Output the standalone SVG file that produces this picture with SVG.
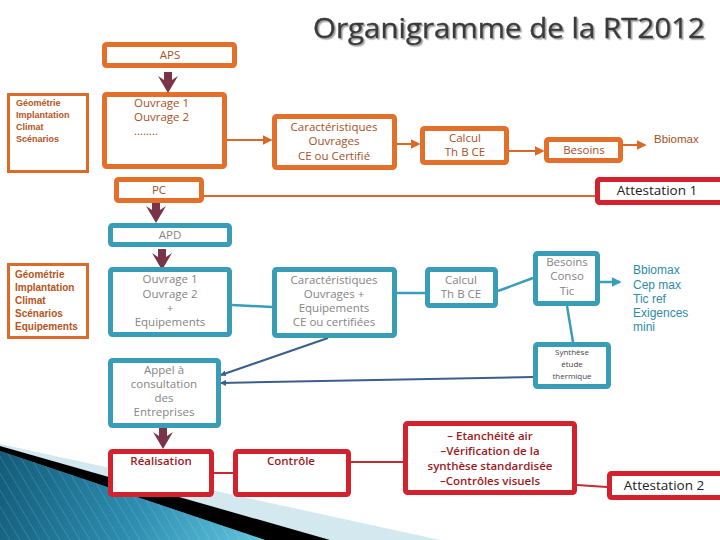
<svg xmlns="http://www.w3.org/2000/svg" width="720" height="540" viewBox="0 0 720 540">
<style>
.o{fill:#fff;stroke:#E2702A;stroke-width:5}
.ol{fill:#fff;stroke:#DD6A2A;stroke-width:3}
.t{fill:#fff;stroke:#3A9DB8;stroke-width:5}
.r{fill:#fff;stroke:#D3222D;stroke-width:5}
.tx{font-family:"Open Sans","DejaVu Sans",sans-serif;font-size:11.5px;text-anchor:middle}
.tsa{text-anchor:start}
.ts{font-size:8px;fill:#444}
.to{fill:#A8501E}
.tg{fill:#858585}
.tr{fill:#9E1A22;font-weight:600}
.lb{font-family:"Liberation Sans",Arial,sans-serif;font-weight:bold;fill:#B5541B}
.tl{font-family:"Liberation Sans",Arial,sans-serif;font-size:12px;fill:#2E8BAA}
.att{font-family:"Open Sans","DejaVu Sans",sans-serif;font-size:13.5px;fill:#222;text-anchor:middle}
.co{fill:none;stroke:#D9692A;stroke-width:2}
.ct{fill:none;stroke:#3A9DB8;stroke-width:2.5}
.cb{fill:none;stroke:#3B5F8C;stroke-width:2}
.cr{fill:none;stroke:#C82A33;stroke-width:2}
.stp{stroke:#ffffff;stroke-opacity:0.15;stroke-width:1}
</style>
<defs>
<marker id="ao" viewBox="0 0 6 6" refX="5" refY="3" markerWidth="5" markerHeight="5" orient="auto"><path d="M0,0 L6,3 L0,6 z" fill="#D9692A"/></marker>
<marker id="at" viewBox="0 0 6 6" refX="5" refY="3" markerWidth="4" markerHeight="4" orient="auto"><path d="M0,0 L6,3 L0,6 z" fill="#3A9DB8"/></marker>
<marker id="ab" viewBox="0 0 6 6" refX="5" refY="3" markerWidth="3" markerHeight="3" orient="auto"><path d="M0,0 L6,3 L0,6 z" fill="#3B5F8C"/></marker>
<g id="darrow"><path d="M-4,0 L4,0 L4,8 L10,4 L0,21 L-10,4 L-4,8 z" fill="#7A3348"/></g>
<linearGradient id="tealgrad" gradientUnits="userSpaceOnUse" x1="0" y1="460" x2="260" y2="540">
<stop offset="0" stop-color="#135C7A"/><stop offset="0.55" stop-color="#2E8FB2"/><stop offset="1" stop-color="#62C3DE"/>
</linearGradient>
<clipPath id="tealclip"><path d="M0,451 L265,540 L0,540 Z"/></clipPath>
<filter id="sh" x="-5%" y="-20%" width="110%" height="150%"><feDropShadow dx="1.5" dy="1.5" stdDeviation="0.7" flood-color="#a0a0a0"/></filter>
</defs>
<rect width="720" height="540" fill="#fff"/>
<g id="decoration">
<path d="M0,444 L440,540 L0,540 Z" fill="#D3E8EF"/>
<path d="M0,446 L330,540 L0,540 Z" fill="#000000"/>
<path d="M0,451 L265,540 L0,540 Z" fill="#2A86A8"/>
<path d="M0,451 L265,540 L0,540 Z" fill="url(#tealgrad)"/>
<g clip-path="url(#tealclip)" class="stp">
<path d="M0,440 L60,540 M10,440 L70,540 M20,440 L80,540 M30,440 L90,540 M40,440 L100,540 M50,440 L110,540 M60,440 L120,540 M70,440 L130,540 M80,440 L140,540 M90,440 L150,540 M100,440 L160,540 M110,440 L170,540 M120,440 L180,540 M130,440 L190,540 M140,440 L200,540 M150,440 L210,540 M160,440 L220,540 M170,440 L230,540 M180,440 L240,540 M190,440 L250,540 M200,440 L260,540 M-10,440 L50,540 M-20,440 L40,540 M-30,440 L30,540 M-40,440 L20,540 M-50,440 L10,540 M-60,440 L0,540" fill="none"/>
</g>
</g>
<text x="705" y="38" text-anchor="end" font-family="Open Sans,DejaVu Sans,sans-serif" font-size="27" fill="#3a3a3a" stroke="#3a3a3a" stroke-width="0.4" textLength="392" lengthAdjust="spacingAndGlyphs" filter="url(#sh)">Organigramme de la RT2012</text>
<g id="connectors">
<line class="co" x1="227" y1="140" x2="271" y2="140" marker-end="url(#ao)"/>
<line class="co" x1="397" y1="144" x2="419" y2="144" marker-end="url(#ao)"/>
<line class="co" x1="509" y1="151" x2="543" y2="151" marker-end="url(#ao)"/>
<line class="co" x1="623" y1="145" x2="645" y2="145" marker-end="url(#ao)"/>
<line class="co" x1="204" y1="196" x2="595" y2="196"/>
<line class="ct" x1="232" y1="305" x2="272" y2="307"/>
<line class="ct" x1="397" y1="293" x2="425" y2="293"/>
<line class="ct" x1="498" y1="291" x2="533" y2="278"/>
<line class="ct" x1="600" y1="282" x2="620" y2="282" marker-end="url(#at)"/>
<line class="ct" x1="567" y1="306" x2="573" y2="342"/>
<line class="cb" x1="533" y1="377" x2="221" y2="383" marker-end="url(#ab)"/>
<line class="cb" x1="328" y1="338" x2="221" y2="375" marker-end="url(#ab)"/>
<line class="cr" x1="214" y1="473" x2="233" y2="473"/>
<line class="cr" x1="351" y1="462" x2="403" y2="462"/>
<line class="cr" x1="577" y1="485" x2="607" y2="487"/>
<use href="#darrow" x="168" y="72"/>
<use href="#darrow" x="156" y="202"/>
<use href="#darrow" x="162" y="249"/>
<use href="#darrow" x="163" y="428"/>
</g>
<g id="aps"><rect class="o" x="104.5" y="44.5" width="130" height="21" rx="2"/><text class="tx to" x="170" y="59">APS</text></g>
<g id="left1"><rect class="ol" x="8.5" y="94.5" width="79" height="77"/>
<text class="lb" font-size="9"><tspan x="16" y="106">Géométrie</tspan><tspan x="16" y="118">Implantation</tspan><tspan x="16" y="130">Climat</tspan><tspan x="16" y="142">Scénarios</tspan></text></g>
<g id="ouvrage1"><rect class="o" x="104.5" y="94.5" width="120" height="72" rx="2"/>
<text class="tx to tsa"><tspan x="134" y="107">Ouvrage 1</tspan><tspan x="134" y="121">Ouvrage 2</tspan><tspan x="134" y="135">……..</tspan></text></g>
<g id="caract1"><rect class="o" x="274.5" y="116.5" width="120" height="51" rx="2"/>
<text class="tx to"><tspan x="334" y="131">Caractéristiques</tspan><tspan x="334" y="145">Ouvrages</tspan><tspan x="334" y="160">CE ou Certifié</tspan></text></g>
<g id="calcul1"><rect class="o" x="422.5" y="128.5" width="84" height="34" rx="2"/>
<text class="tx to"><tspan x="465" y="142">Calcul</tspan><tspan x="465" y="156">Th B CE</tspan></text></g>
<g id="besoins1"><rect class="o" x="546.5" y="139.5" width="74" height="21" rx="2"/><text class="tx to" x="584" y="154">Besoins</text></g>
<g id="bbiomax1"><text x="654" y="143" font-family="Liberation Sans,Arial,sans-serif" font-size="11.5" fill="#A8501E">Bbiomax</text></g>
<g id="pc"><rect class="o" x="116.5" y="179.5" width="85" height="21" rx="2"/><text class="tx to" x="159" y="194">PC</text></g>
<g id="attestation1"><rect class="r" x="597.5" y="179.5" width="125" height="23" rx="2"/><text class="att" x="657" y="195">Attestation 1</text></g>
<g id="apd"><rect class="t" x="110.5" y="225.5" width="119" height="19" rx="2"/><text class="tx tg" x="170" y="239">APD</text></g>
<g id="left2"><rect class="ol" x="8.5" y="264.5" width="79" height="73"/>
<text class="lb" font-size="10"><tspan x="15" y="278">Géométrie</tspan><tspan x="15" y="291">Implantation</tspan><tspan x="15" y="304">Climat</tspan><tspan x="15" y="317">Scénarios</tspan><tspan x="15" y="330">Equipements</tspan></text></g>
<g id="ouvrage2"><rect class="t" x="110.5" y="269.5" width="119" height="65" rx="2"/>
<text class="tx tg"><tspan x="170" y="283">Ouvrage 1</tspan><tspan x="170" y="298">Ouvrage 2</tspan><tspan x="170" y="312">+</tspan><tspan x="170" y="326">Equipements</tspan></text></g>
<g id="caract2"><rect class="t" x="274.5" y="269.5" width="120" height="66" rx="2"/>
<text class="tx tg"><tspan x="334" y="284">Caractéristiques</tspan><tspan x="334" y="298">Ouvrages +</tspan><tspan x="334" y="312">Equipements</tspan><tspan x="334" y="326">CE ou certifiées</tspan></text></g>
<g id="calcul2"><rect class="t" x="427.5" y="269.5" width="68" height="36" rx="2"/>
<text class="tx tg"><tspan x="461" y="284">Calcul</tspan><tspan x="461" y="298">Th B CE</tspan></text></g>
<g id="besoins2"><rect class="t" x="535.5" y="253.5" width="62" height="50" rx="2"/>
<text class="tx tg"><tspan x="567" y="266">Besoins</tspan><tspan x="567" y="280">Conso</tspan><tspan x="567" y="295">Tic</tspan></text></g>
<g id="exigences"><text class="tl"><tspan x="633" y="274">Bbiomax</tspan><tspan x="633" y="289">Cep max</tspan><tspan x="633" y="303">Tic ref</tspan><tspan x="633" y="317">Exigences</tspan><tspan x="633" y="331">mini</tspan></text></g>
<g id="synthese"><rect class="t" x="535.5" y="344.5" width="73" height="42" rx="2"/>
<text class="tx ts"><tspan x="572" y="355">Synthèse</tspan><tspan x="572" y="367">étude</tspan><tspan x="572" y="379">thermique</tspan></text></g>
<g id="appel"><rect class="t" x="110.5" y="360.5" width="108" height="65" rx="2"/>
<text class="tx tg"><tspan x="164" y="374">Appel à</tspan><tspan x="164" y="388">consultation</tspan><tspan x="164" y="402">des</tspan><tspan x="164" y="416">Entreprises</tspan></text></g>
<g id="realisation"><rect class="r" x="110.5" y="451.5" width="101" height="43" rx="2"/><text class="tx tr" x="161" y="465">Réalisation</text></g>
<g id="controle"><rect class="r" x="235.5" y="451.5" width="113" height="43" rx="2"/><text class="tx tr" x="291" y="465">Contrôle</text></g>
<g id="etancheite"><rect class="r" x="405.5" y="423.5" width="169" height="69" rx="2"/>
<text class="tx tr"><tspan x="490" y="440">–  Etanchéité air</tspan><tspan x="490" y="455">–Vérification de la</tspan><tspan x="490" y="470">synthèse standardisée</tspan><tspan x="490" y="485">–Contrôles visuels</tspan></text></g>
<g id="attestation2"><rect class="r" x="609.5" y="473.5" width="115" height="24" rx="2"/><text class="att" x="664" y="490">Attestation 2</text></g>
</svg>
